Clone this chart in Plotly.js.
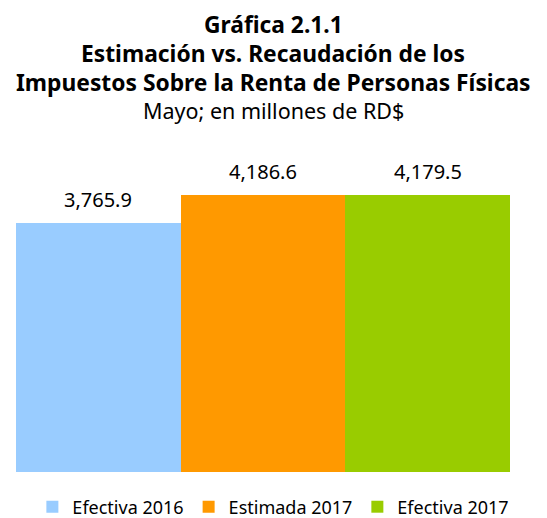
<!DOCTYPE html>
<html><head><meta charset="utf-8">
<script src="https://cdn.plot.ly/plotly-3.0.1.min.js"></script>
<style>html,body{margin:0;padding:0;background:#fff}</style>
</head><body><div id="chart" style="width:547px;height:518px"></div>
<script>
const seriesNames = ["Efectiva 2016", "Estimada 2017", "Efectiva 2017"];
const seriesValues = [3765.9, 4186.6, 4179.5];
const seriesColors = ["#99CCFF", "#FF9900", "#99CC00"];
const titleLines = ["Gráfica 2.1.1", "Estimación vs. Recaudación de los", "Impuestos Sobre la Renta de Personas Físicas", "Mayo; en millones de RD$"];

const FONT = "Noto Sans, Open Sans, sans-serif";
const traces = seriesNames.map((n, i) => ({
  type: "bar", name: n, x: [i], y: [seriesValues[i]], width: 1,
  marker: {color: seriesColors[i]}, hoverinfo: "none"
}));
const fmt = v => v.toLocaleString("en-US", {minimumFractionDigits: 1, maximumFractionDigits: 1});
const annotations = seriesValues.map((v, i) => ({
  x: i, y: v, xref: "x", yref: "y", text: fmt(v), showarrow: false,
  yanchor: "bottom", yshift: 8, font: {family: FONT, size: 20, color: "#000"}
}));
const titleY = [24, 53, 82, 110];
titleLines.forEach((t, i) => {
  annotations.push({
    xref: "paper", yref: "paper", x: 0.521, xanchor: "center",
    y: 1, yanchor: "middle", yshift: 150 - titleY[i], text: i < 3 ? "<b>" + t + "</b>" : t,
    showarrow: false, font: {family: FONT, size: i < 3 ? 22.8 : 21.5, color: "#000"}
  });
});

const layout = {
  width: 547, height: 518,
  margin: {l: 16, r: 37, t: 150, b: 46, autoexpand: false},
  paper_bgcolor: "#fff", plot_bgcolor: "#fff",
  barmode: "overlay", bargap: 0,
  showlegend: true,
  legend: {orientation: "h", x: 0.521, xanchor: "center", y: -0.1087, yanchor: "middle", yref: "paper",
           font: {family: FONT, size: 18, color: "#000"}, itemwidth: 30, tracegroupgap: 0},
  xaxis: {range: [-0.5, 2.5], showticklabels: false, showgrid: false, zeroline: false,
          showline: false, ticks: "", fixedrange: true},
  yaxis: {range: [0, 4866], showticklabels: false, showgrid: false, zeroline: false,
          showline: false, ticks: "", fixedrange: true},
  annotations: annotations
};
Plotly.newPlot("chart", traces, layout, {displayModeBar: false, staticPlot: true});
</script></body></html>
